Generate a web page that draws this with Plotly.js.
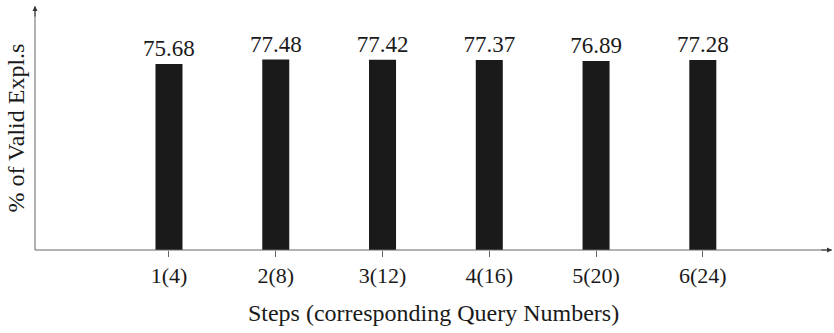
<!DOCTYPE html>
<html><head><meta charset="utf-8">
<script src="https://cdn.plot.ly/plotly-3.0.1.min.js"></script>
<style>html,body{margin:0;padding:0;background:#fff}#c{width:834px;height:333px}</style>
</head><body><div id="c"></div>
<script>
const categories = ["1(4)", "2(8)", "3(12)", "4(16)", "5(20)", "6(24)"];
const values = [75.68, 77.48, 77.42, 77.37, 76.89, 77.28];
const labels = ["75.68", "77.48", "77.42", "77.37", "76.89", "77.28"];

const font = "Liberation Serif, Times New Roman, serif";
const idx = categories.map((_, i) => i);

const trace = {
  type: 'bar', x: idx, y: values, width: 0.253,
  marker: {color: '#1a1a1a', line: {width: 0}},
  text: labels, textposition: 'outside', cliponaxis: false, constraintext: 'none',
  textfont: {family: font, size: 23, color: '#1a1a1a'},
  hoverinfo: 'none'
};

const layout = {
  width: 834, height: 333,
  margin: {l: 35, r: 2, t: 6, b: 83},
  paper_bgcolor: '#fff', plot_bgcolor: '#fff',
  showlegend: false,
  font: {family: font, color: '#1a1a1a'},
  xaxis: {
    range: [-1.255, 6.21], tickvals: idx, ticktext: categories,
    ticks: 'outside', ticklen: 6, tickcolor: '#666', tickwidth: 1,
    showgrid: false, zeroline: false, showline: false,
    tickfont: {family: font, size: 22, color: '#1a1a1a'},
    title: {text: 'Steps (corresponding Query Numbers)', font: {family: font, size: 24, color: '#1a1a1a'}, standoff: 16}
  },
  yaxis: {
    range: [0, 99.3], showticklabels: false, ticks: '',
    showgrid: false, zeroline: false, showline: false,
    title: {text: '% of Valid Expl.s', font: {family: font, size: 24, color: '#1a1a1a'}, standoff: 2}
  },
  shapes: [
    {type: 'line', xref: 'paper', yref: 'paper', x0: 0, x1: 1, y0: 0, y1: 0, line: {color: '#666', width: 1}},
    {type: 'line', xref: 'paper', yref: 'paper', x0: 0, x1: 0, y0: 0, y1: 1, line: {color: '#666', width: 1}}
  ],
  annotations: [
    {xref: 'paper', yref: 'paper', x: 1, y: 0, ax: -12, ay: 0, text: '', showarrow: true, arrowhead: 2, arrowsize: 1, arrowwidth: 1, arrowcolor: '#333'},
    {xref: 'paper', yref: 'paper', x: 0, y: 1, ax: 0, ay: 12, text: '', showarrow: true, arrowhead: 2, arrowsize: 1, arrowwidth: 1, arrowcolor: '#333'}
  ]
};

Plotly.newPlot('c', [trace], layout, {displayModeBar: false, staticPlot: true});
</script></body></html>
